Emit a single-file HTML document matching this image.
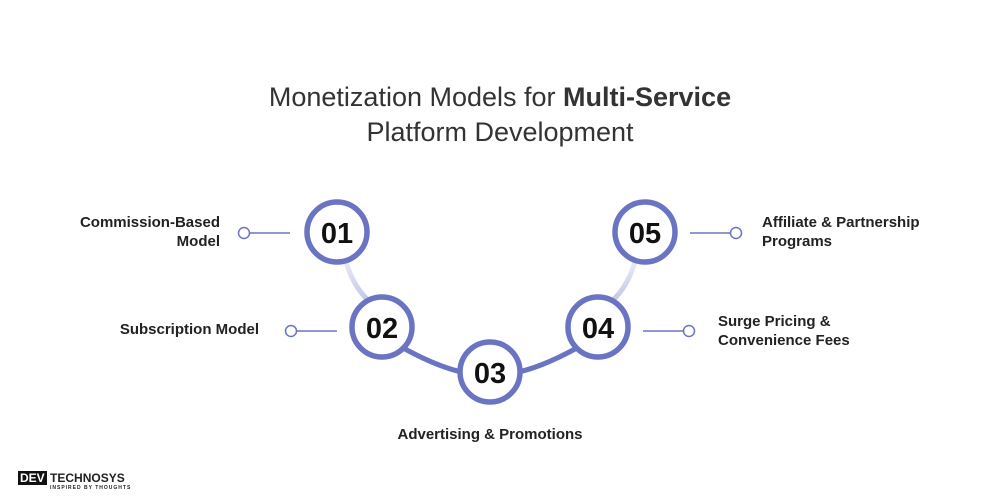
<!DOCTYPE html>
<html><head><meta charset="utf-8"><style>
body{margin:0;width:1000px;height:500px;background:#fff;position:relative;overflow:hidden;font-family:"Liberation Sans",sans-serif;color:#222}
.t{position:absolute;left:0;width:1000px;text-align:center;font-size:27px;color:#333}
.l{position:absolute;font-size:15px;font-weight:bold;color:#222;line-height:19px}
</style></head><body>
<div class="t" style="top:82px">Monetization Models for <b>Multi-Service</b></div>
<div class="t" style="top:117px">Platform Development</div>
<svg width="1000" height="500" style="position:absolute;left:0;top:0">
<defs>
<linearGradient id="g1" x1="0" y1="0" x2="0" y2="1"><stop offset="0" stop-color="#eceef8"/><stop offset="1" stop-color="#c4c8e8"/></linearGradient>
</defs>
<g fill="none" stroke-width="5">
<path d="M345 258 Q352 285 368 300" stroke="url(#g1)"/>
<path d="M636 258 Q629 285 613 300" stroke="url(#g1)"/>
<path d="M405 349 Q440 368 466 373" stroke="#6b74c3"/>
<path d="M575 349 Q540 368 514 373" stroke="#6b74c3"/>
</g>
<g stroke="#6b74c3" stroke-width="1.5" fill="#fff">
<line x1="250" y1="233" x2="290" y2="233"/><circle cx="244" cy="233" r="5.5"/>
<line x1="297" y1="331" x2="337" y2="331"/><circle cx="291" cy="331" r="5.5"/>
<line x1="643" y1="331" x2="683" y2="331"/><circle cx="689" cy="331" r="5.5"/>
<line x1="690" y1="233" x2="730" y2="233"/><circle cx="736" cy="233" r="5.5"/>
</g>
<g stroke="#6b74c3" stroke-width="5.5" fill="#fff">
<circle cx="337" cy="232" r="30"/><circle cx="382" cy="327" r="30"/><circle cx="490" cy="372" r="30"/><circle cx="598" cy="327" r="30"/><circle cx="645" cy="232" r="30"/>
</g>
<g font-family="Liberation Sans,sans-serif" font-weight="bold" font-size="29" text-anchor="middle" fill="#111">
<text x="337" y="243">01</text><text x="382" y="338">02</text><text x="490" y="383">03</text><text x="598" y="338">04</text><text x="645" y="243">05</text>
</g>
</svg>
<div class="l" style="right:780px;top:213px;text-align:right">Commission-Based<br>Model</div>
<div class="l" style="right:741px;top:320px;text-align:right">Subscription Model</div>
<div class="l" style="left:718px;top:312px">Surge Pricing &amp;<br>Convenience Fees</div>
<div class="l" style="left:762px;top:213px">Affiliate &amp; Partnership<br>Programs</div>
<div class="l" style="left:0;width:980px;text-align:center;top:425px">Advertising &amp; Promotions</div>
<div style="position:absolute;left:18px;top:471px;font-size:12px;font-weight:bold;letter-spacing:0px"><span style="background:#111;color:#fff;padding:0 2px">DEV</span> TECHNOSYS<div style="font-size:5px;letter-spacing:1px;margin-left:32px">INSPIRED BY THOUGHTS</div></div>
</body></html>
